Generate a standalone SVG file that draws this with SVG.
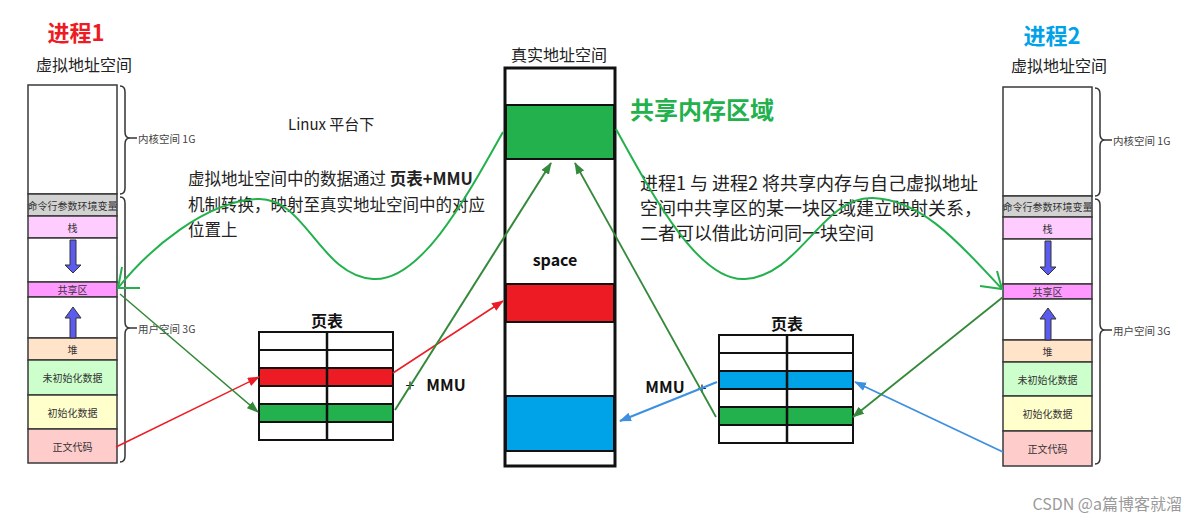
<svg xmlns="http://www.w3.org/2000/svg" width="1195" height="523" viewBox="0 0 1195 523">
<style>
text{font-family:"Noto Sans CJK SC","Liberation Sans",sans-serif;}
.cell{stroke:#3a3a3a;stroke-width:1.5;}
.lbl{font-size:10px;fill:#333;text-anchor:middle;dominant-baseline:central;}
.side{font-size:10.5px;fill:#444;dominant-baseline:central;}
.brace{fill:none;stroke:#333;stroke-width:1.5;}
.tcell{fill:#fff;stroke:#111;stroke-width:2;}
.blk{stroke:#111;stroke-width:2;}
.arr{fill:#5B5BF0;stroke:#333;stroke-width:1;}
.curve{fill:none;stroke:#22B14C;stroke-width:2;}
.dg{stroke:#34893A;fill:none;}
.head{font-size:16px;fill:#222;text-anchor:middle;dominant-baseline:central;}
.body{font-size:16.5px;fill:#222;}
.bodyR{font-size:18px;fill:#222;}
</style>
<defs>
<marker id="mRed" markerUnits="userSpaceOnUse" markerWidth="12" markerHeight="9" refX="11" refY="4.5" orient="auto"><path d="M0,0 L12,4.5 L0,9 z" fill="#ED1C24"/></marker>
<marker id="mDg" markerUnits="userSpaceOnUse" markerWidth="12" markerHeight="9" refX="11" refY="4.5" orient="auto"><path d="M0,0 L12,4.5 L0,9 z" fill="#34893A"/></marker>
<marker id="mBlue" markerUnits="userSpaceOnUse" markerWidth="12" markerHeight="9" refX="11" refY="4.5" orient="auto"><path d="M0,0 L12,4.5 L0,9 z" fill="#3D8FE0"/></marker>
</defs>

<!-- Process 1 -->
<g id="proc1">
<text x="76" y="31" font-size="22" font-weight="bold" fill="#ED1C24" text-anchor="middle" dominant-baseline="central">进程1</text>
<text x="84" y="64" class="head">虚拟地址空间</text>
<rect class="cell" x="28" y="85" width="89" height="109" fill="#fff"/>
<rect class="cell" x="28" y="194" width="89" height="22" fill="#D2D2D2"/>
<text class="lbl" x="72.5" y="205">命令行参数环境变量</text>
<rect class="cell" x="28" y="216" width="89" height="22" fill="#FFCCFF"/>
<text class="lbl" x="72.5" y="227">栈</text>
<rect class="cell" x="28" y="238" width="89" height="44" fill="#fff"/>
<rect class="cell" x="28" y="282" width="89" height="15" fill="#FF99FF"/>
<text class="lbl" x="72.5" y="289.5">共享区</text>
<rect class="cell" x="28" y="297" width="89" height="41" fill="#fff"/>
<rect class="cell" x="28" y="338" width="89" height="22" fill="#FFE4CA"/>
<text class="lbl" x="72.5" y="349">堆</text>
<rect class="cell" x="28" y="360" width="89" height="35" fill="#CCFFCC"/>
<text class="lbl" x="72.5" y="377.5">未初始化数据</text>
<rect class="cell" x="28" y="395" width="89" height="34" fill="#FFFFCC"/>
<text class="lbl" x="72.5" y="412">初始化数据</text>
<rect class="cell" x="28" y="429" width="89" height="34" fill="#FFCCCC"/>
<text class="lbl" x="72.5" y="446">正文代码</text>
<path class="arr" d="M70,240 L76,240 L76,265 L81,265 L73,273 L65,265 L70,265 z"/>
<path class="arr" d="M70,338 L76,338 L76,318 L81,318 L73,307 L65,318 L70,318 z"/>
<path class="brace" d="M120,86 Q125,86 125,92 L125,132 Q125,138 130,138 Q125,138 125,144 L125,188 Q125,194 120,194"/>
<line x1="130" y1="138" x2="137" y2="138" stroke="#333" stroke-width="1.5"/>
<text class="side" x="138" y="138">内核空间 1G</text>
<path class="brace" d="M120,197 Q125,197 125,203 L125,322 Q125,328 130,328 Q125,328 125,334 L125,456 Q125,462 120,462"/>
<line x1="130" y1="328" x2="137" y2="328" stroke="#333" stroke-width="1.5"/>
<text class="side" x="138" y="328">用户空间 3G</text>
</g>

<!-- Process 2 -->
<g id="proc2">
<text x="1052" y="34" font-size="22" font-weight="bold" fill="#00A2E8" text-anchor="middle" dominant-baseline="central">进程2</text>
<text x="1059" y="65" class="head">虚拟地址空间</text>
<rect class="cell" x="1003" y="87" width="89" height="109" fill="#fff"/>
<rect class="cell" x="1003" y="196" width="89" height="21" fill="#D2D2D2"/>
<text class="lbl" x="1047.5" y="206.5">命令行参数环境变量</text>
<rect class="cell" x="1003" y="217" width="89" height="22" fill="#FFCCFF"/>
<text class="lbl" x="1047.5" y="228">栈</text>
<rect class="cell" x="1003" y="239" width="89" height="45" fill="#fff"/>
<rect class="cell" x="1003" y="284" width="89" height="15" fill="#FF99FF"/>
<text class="lbl" x="1047.5" y="291.5">共享区</text>
<rect class="cell" x="1003" y="299" width="89" height="41" fill="#fff"/>
<rect class="cell" x="1003" y="340" width="89" height="22" fill="#FFE4CA"/>
<text class="lbl" x="1047.5" y="351">堆</text>
<rect class="cell" x="1003" y="362" width="89" height="34" fill="#CCFFCC"/>
<text class="lbl" x="1047.5" y="379">未初始化数据</text>
<rect class="cell" x="1003" y="396" width="89" height="35" fill="#FFFFCC"/>
<text class="lbl" x="1047.5" y="413.5">初始化数据</text>
<rect class="cell" x="1003" y="431" width="89" height="35" fill="#FFCCCC"/>
<text class="lbl" x="1047.5" y="448.5">正文代码</text>
<path class="arr" d="M1045,241 L1051,241 L1051,267 L1056,267 L1048,275 L1040,267 L1045,267 z"/>
<path class="arr" d="M1045,340 L1051,340 L1051,319 L1056,319 L1048,308 L1040,319 L1045,319 z"/>
<path class="brace" d="M1095,88 Q1100,88 1100,94 L1100,134 Q1100,140 1105,140 Q1100,140 1100,146 L1100,190 Q1100,196 1095,196"/>
<line x1="1105" y1="140" x2="1112" y2="140" stroke="#333" stroke-width="1.5"/>
<text class="side" x="1113" y="140">内核空间 1G</text>
<path class="brace" d="M1095,199 Q1100,199 1100,205 L1100,324 Q1100,330 1105,330 Q1100,330 1100,336 L1100,458 Q1100,464 1095,464"/>
<line x1="1105" y1="330" x2="1112" y2="330" stroke="#333" stroke-width="1.5"/>
<text class="side" x="1113" y="330">用户空间 3G</text>
</g>

<!-- Physical memory -->
<g id="physical">
<text x="559" y="54" class="head">真实地址空间</text>
<rect x="505" y="68" width="110" height="398" fill="#fff" stroke="#111" stroke-width="3"/>
<rect class="blk" x="506" y="105" width="108" height="54" fill="#22B14C"/>
<rect class="blk" x="506" y="284" width="108" height="38" fill="#ED1C24"/>
<rect class="blk" x="506" y="396" width="108" height="55" fill="#00A2E8"/>
<text x="555" y="259" font-size="16" font-weight="bold" fill="#111" text-anchor="middle" dominant-baseline="central">space</text>
</g>

<!-- Page table 1 -->
<g id="pagetable1">
<text x="327" y="320" font-size="16" font-weight="bold" fill="#111" text-anchor="middle" dominant-baseline="central">页表</text>
<rect class="tcell" x="259" y="332" width="134" height="18"/>
<rect class="tcell" x="259" y="350" width="134" height="18"/>
<rect class="tcell" x="259" y="368" width="134" height="18" fill="#ED1C24" style="fill:#ED1C24"/>
<rect class="tcell" x="259" y="386" width="134" height="18"/>
<rect class="tcell" x="259" y="404" width="134" height="18" style="fill:#22B14C"/>
<rect class="tcell" x="259" y="422" width="134" height="18"/>
<line x1="327" y1="332" x2="327" y2="440" stroke="#111" stroke-width="2.5"/>
<text x="410" y="384" font-size="16" fill="#111" text-anchor="middle" dominant-baseline="central">+</text>
<text x="446" y="384" font-size="16" font-weight="bold" fill="#111" text-anchor="middle" dominant-baseline="central">MMU</text>
</g>

<!-- Page table 2 -->
<g id="pagetable2">
<text x="787" y="323" font-size="16" font-weight="bold" fill="#111" text-anchor="middle" dominant-baseline="central">页表</text>
<rect class="tcell" x="719" y="335" width="134" height="18"/>
<rect class="tcell" x="719" y="353" width="134" height="18"/>
<rect class="tcell" x="719" y="371" width="134" height="18" style="fill:#00A2E8"/>
<rect class="tcell" x="719" y="389" width="134" height="18"/>
<rect class="tcell" x="719" y="407" width="134" height="18" style="fill:#22B14C"/>
<rect class="tcell" x="719" y="425" width="134" height="18"/>
<line x1="787" y1="335" x2="787" y2="443" stroke="#111" stroke-width="2.5"/>
<text x="665" y="386" font-size="16" font-weight="bold" fill="#111" text-anchor="middle" dominant-baseline="central">MMU</text>
<text x="702" y="387" font-size="16" fill="#111" text-anchor="middle" dominant-baseline="central">+</text>
</g>

<!-- Texts -->
<g id="notes">
<text x="288" y="123" font-size="15" fill="#222" dominant-baseline="central">Linux 平台下</text>
<text class="body" x="188" y="178" dominant-baseline="central">虚拟地址空间中的数据通过 <tspan font-weight="bold">页表+MMU</tspan></text>
<text class="body" x="188" y="204" dominant-baseline="central">机制转换，映射至真实地址空间中的对应</text>
<text class="body" x="188" y="229" dominant-baseline="central">位置上</text>
<text x="630" y="108" font-size="24" font-weight="bold" fill="#22B14C" dominant-baseline="central">共享内存区域</text>
<text class="bodyR" x="640" y="182" dominant-baseline="central">进程1 与 进程2 将共享内存与自己虚拟地址</text>
<text class="bodyR" x="640" y="207" dominant-baseline="central">空间中共享区的某一块区域建立映射关系，</text>
<text class="bodyR" x="640" y="232" dominant-baseline="central">二者可以借此访问同一块空间</text>
<text x="1182" y="503" font-size="16" fill="#9a9a9a" text-anchor="end" dominant-baseline="central">CSDN @a篇博客就溜</text>
</g>

<!-- Connectors -->
<g id="connectors">
<path class="curve" d="M503,132 C465,200 420,282 373,279 C320,276 305,196 257,199 C205,202 150,248 118,288"/>
<polyline class="curve" points="122,267 118,288 140,288"/>
<path class="curve" d="M616,129 C655,200 700,282 745,279 C800,276 822,196 873,198 C925,200 965,250 1002,289"/>
<polyline class="curve" points="997,271 1002,289 980,286"/>
<line x1="116" y1="447" x2="259" y2="377" stroke="#ED1C24" stroke-width="1.5" marker-end="url(#mRed)"/>
<line class="dg" x1="120" y1="294" x2="258" y2="412" stroke-width="1.5" marker-end="url(#mDg)"/>
<line x1="393" y1="373" x2="503" y2="301" stroke="#ED1C24" stroke-width="1.5" marker-end="url(#mRed)"/>
<line class="dg" x1="395" y1="410" x2="551" y2="163" stroke-width="2" marker-end="url(#mDg)"/>
<line class="dg" x1="716" y1="417" x2="575" y2="163" stroke-width="1.8" marker-end="url(#mDg)"/>
<line x1="717" y1="382" x2="620" y2="421" stroke="#3D8FE0" stroke-width="2" marker-end="url(#mBlue)"/>
<line x1="1003" y1="452" x2="855" y2="382" stroke="#3D8FE0" stroke-width="1.8" marker-end="url(#mBlue)"/>
<line class="dg" x1="1003" y1="297" x2="853" y2="417" stroke-width="1.8" marker-end="url(#mDg)"/>
</g>
</svg>
